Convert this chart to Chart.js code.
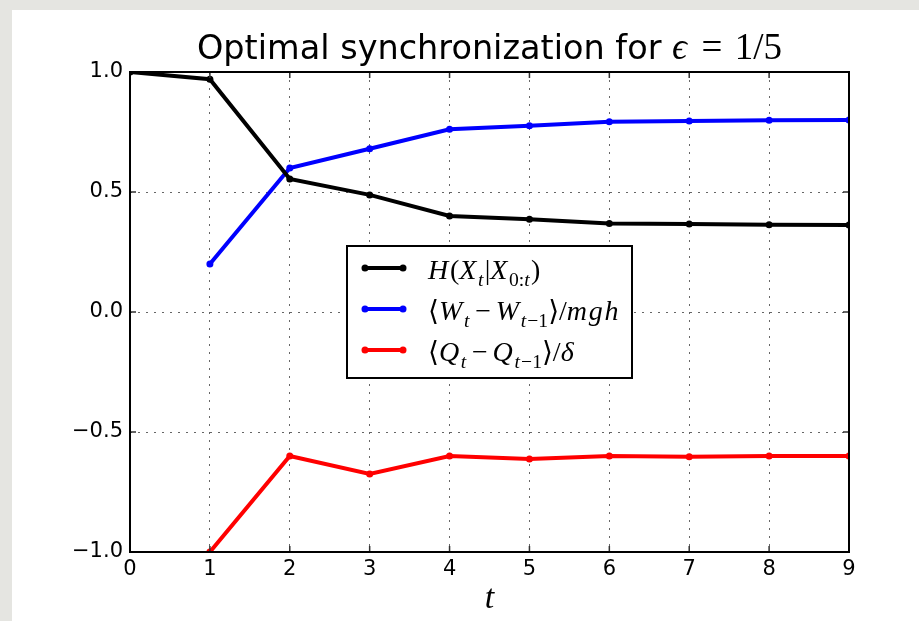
<!DOCTYPE html>
<html>
<head>
<meta charset="utf-8">
<script src="https://cdn.jsdelivr.net/npm/chart.js@4.4.1/dist/chart.umd.min.js"></script>
<style>
  html, body { margin: 0; padding: 0; }
  body { width: 919px; height: 621px; background: #e5e5e1; position: relative; overflow: hidden; }
  #hoja { position: absolute; left: 12px; top: 10px; right: 0; bottom: 0; background: #fff; }
  #grafica { position: absolute; left: 0; top: 0; }
</style>
</head>
<body>
<div id="hoja"></div>
<canvas id="grafica" width="919" height="621"></canvas>
<script>
// Pasos de tiempo y valores de cada serie
const pasos = [0, 1, 2, 3, 4, 5, 6, 7, 8, 9];
const entropia = [1.0, 0.97, 0.554, 0.488, 0.40, 0.386, 0.369, 0.367, 0.364, 0.363];
const trabajo = [null, 0.20, 0.60, 0.68, 0.761, 0.776, 0.793, 0.796, 0.799, 0.80];
const calor = [null, -1.0, -0.60, -0.675, -0.60, -0.6125, -0.60, -0.603, -0.60, -0.60];
const ticksX = [0, 1, 2, 3, 4, 5, 6, 7, 8, 9];
const ticksY = [-1.0, -0.5, 0.0, 0.5, 1.0];
const etiquetas = ['H(X_{t}|X_{0:t})', '⟨W_{t}\u2006−\u2006W_{t−1}⟩/mgh', '⟨Q_{t}\u2006−\u2006Q_{t−1}⟩/δ'];
const colores = ['#000000', '#0000ff', '#ff0000'];
const tituloTexto = 'Optimal synchronization for ';
const tituloMath = 'ϵ\u2004=\u20041/5';

const SANS = '"DejaVu Sans", sans-serif';
const SERIF = '"Liberation Serif", "DejaVu Serif", serif';

// separa un texto tipo TeX en partes normales y subíndices
function partesMath(src) {
  const out = [];
  let i = 0;
  while (i < src.length) {
    if (src[i] === '_' && src[i + 1] === '{') {
      const fin = src.indexOf('}', i);
      out.push({ txt: src.slice(i + 2, fin), sub: true });
      i = fin + 1;
    } else {
      let j = i;
      while (j < src.length && !(src[j] === '_' && src[j + 1] === '{')) j++;
      out.push({ txt: src.slice(i, j), sub: false });
      i = j;
    }
  }
  return out;
}

// letras en cursiva (con un pequeño hueco detrás), el resto recto
function dibujarMath(ctx, src, x, y, size, pintar = true) {
  let cx = x;
  for (const p of partesMath(src)) {
    const s = p.sub ? size * 0.7 : size;
    const dy = p.sub ? size * 0.24 : 0;
    for (const ch of p.txt) {
      const italica = /\p{L}/u.test(ch);
      ctx.font = (italica ? 'italic ' : '') + s + 'px ' + SERIF;
      if (pintar) ctx.fillText(ch, cx, y + dy);
      cx += ctx.measureText(ch).width + (italica ? s * 0.06 : 0);
    }
  }
  return cx - x;
}

const puntos = serie => pasos.map((t, i) => ({ x: t, y: serie[i] })).filter(p => p.y !== null);

const datasets = [entropia, trabajo, calor].map((serie, k) => ({
  label: etiquetas[k],
  data: puntos(serie),
  borderColor: colores[k],
  backgroundColor: colores[k],
  borderWidth: 4,
  pointRadius: 3.5,
  pointBorderWidth: 0,
  pointHoverRadius: 3.5,
  tension: 0,
  clip: 0,
}));

// marco, marcas interiores, leyenda y título
const extras = {
  id: 'extras',
  afterDatasetsDraw(chart) {
    const { ctx, chartArea: a, scales } = chart;
    ctx.save();
    ctx.strokeStyle = '#333';
    ctx.lineWidth = 1.5;
    ctx.beginPath();
    for (const v of ticksX) {
      const px = scales.x.getPixelForValue(v);
      ctx.moveTo(px, a.bottom); ctx.lineTo(px, a.bottom - 6);
      ctx.moveTo(px, a.top); ctx.lineTo(px, a.top + 6);
    }
    for (const v of ticksY) {
      const py = scales.y.getPixelForValue(v);
      ctx.moveTo(a.left, py); ctx.lineTo(a.left + 6, py);
      ctx.moveTo(a.right, py); ctx.lineTo(a.right - 6, py);
    }
    ctx.stroke();
    ctx.strokeStyle = '#000';
    ctx.lineWidth = 2;
    ctx.strokeRect(a.left, a.top, a.right - a.left, a.bottom - a.top);
    ctx.restore();
  },
  afterDraw(chart) {
    const { ctx, chartArea: a } = chart;
    ctx.save();
    // leyenda centrada
    const w = 285, h = 132;
    const lx = Math.round((a.left + a.right) / 2 - w / 2);
    const ly = Math.round((a.top + a.bottom) / 2 - h / 2);
    ctx.fillStyle = '#fff';
    ctx.fillRect(lx, ly, w, h);
    ctx.strokeStyle = '#000';
    ctx.lineWidth = 2;
    ctx.strokeRect(lx, ly, w, h);
    chart.data.datasets.forEach((ds, k) => {
      const ry = ly + 22 + k * 41;
      ctx.strokeStyle = ds.borderColor;
      ctx.fillStyle = ds.borderColor;
      ctx.lineWidth = 4;
      ctx.beginPath();
      ctx.moveTo(lx + 18, ry); ctx.lineTo(lx + 56, ry);
      ctx.stroke();
      for (const px of [lx + 18, lx + 56]) {
        ctx.beginPath();
        ctx.arc(px, ry, 3.5, 0, Math.PI * 2);
        ctx.fill();
      }
      ctx.fillStyle = '#000';
      ctx.textBaseline = 'alphabetic';
      ctx.textAlign = 'left';
      dibujarMath(ctx, ds.label, lx + 81, ry + 11, 28);
    });
    // título
    ctx.fillStyle = '#000';
    ctx.textBaseline = 'alphabetic';
    ctx.textAlign = 'left';
    ctx.font = '33.5px ' + SANS;
    const w1 = ctx.measureText(tituloTexto).width;
    const w2 = dibujarMath(ctx, tituloMath, 0, 0, 37, false);
    const tx = (a.left + a.right) / 2 - (w1 + w2) / 2;
    ctx.font = '33.5px ' + SANS;
    ctx.fillText(tituloTexto, tx, 59);
    dibujarMath(ctx, tituloMath, tx + w1, 59, 37);
    ctx.restore();
  }
};

new Chart(document.getElementById('grafica'), {
  type: 'line',
  data: { datasets },
  options: {
    responsive: false,
    animation: false,
    events: [],
    layout: { padding: { top: 72, right: 70, left: 0, bottom: 0 } },
    plugins: { legend: { display: false }, tooltip: { enabled: false } },
    scales: {
      x: {
        type: 'linear',
        min: 0,
        max: 9,
        afterBuildTicks: s => { s.ticks = ticksX.map(v => ({ value: v })); },
        afterFit: s => { s.height = 69; },
        ticks: { color: '#000', font: { family: SANS, size: 21 }, padding: 5 },
        grid: { color: 'rgba(0,0,0,0.6)', lineWidth: 1, drawTicks: false },
        border: { display: false, dash: [2, 6] },
        title: {
          display: true,
          text: 't',
          color: '#000',
          font: { family: SERIF, size: 34, style: 'italic' },
          padding: { top: 0, bottom: 2 },
        },
      },
      y: {
        min: -1,
        max: 1,
        afterBuildTicks: s => { s.ticks = ticksY.map(v => ({ value: v })); },
        afterFit: s => { s.width = 130; },
        ticks: {
          color: '#000',
          font: { family: SANS, size: 21 },
          padding: 7,
          callback: v => (v < 0 ? '−' : '') + Math.abs(v).toFixed(1),
        },
        grid: { color: 'rgba(0,0,0,0.6)', lineWidth: 1, drawTicks: false },
        border: { display: false, dash: [2, 6] },
      },
    },
  },
  plugins: [extras],
});
</script>
</body>
</html>
